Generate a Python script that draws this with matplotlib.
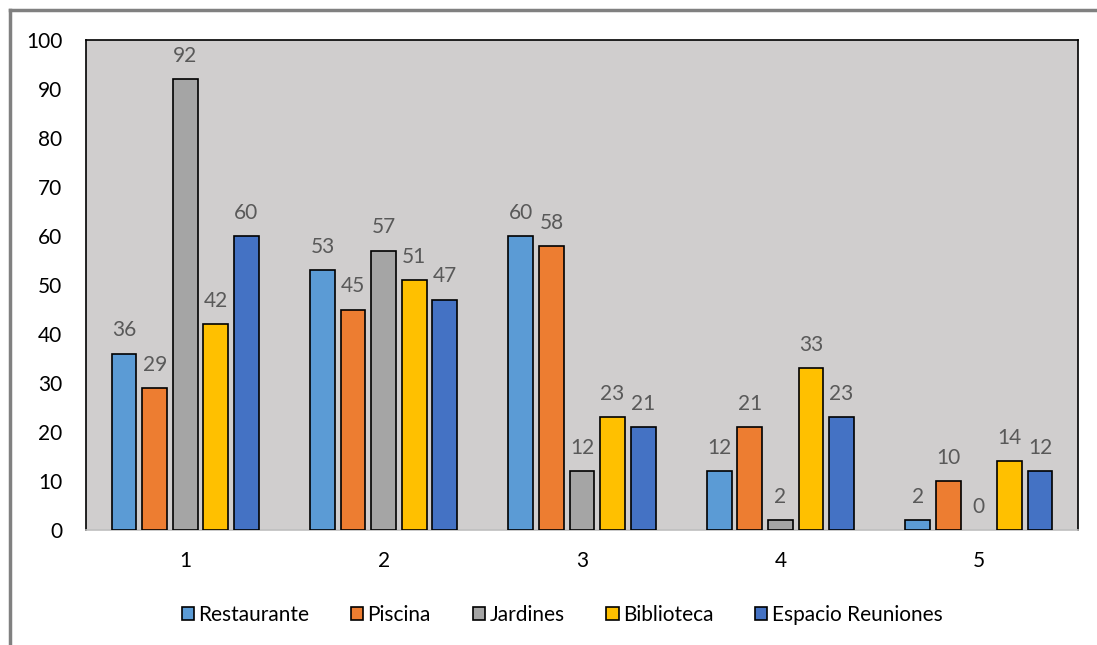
import matplotlib
matplotlib.use("Agg")
import matplotlib.pyplot as plt
import numpy as np
from matplotlib.lines import Line2D

categories = ["1", "2", "3", "4", "5"]
series_names = ["Restaurante", "Piscina", "Jardines", "Biblioteca", "Espacio Reuniones"]
restaurante = [36, 53, 60, 12, 2]
piscina = [29, 45, 58, 21, 10]
jardines = [92, 57, 12, 2, 0]
biblioteca = [42, 51, 23, 33, 14]
espacio = [60, 47, 21, 23, 12]
colors = ["#5B9BD5", "#ED7D31", "#A5A5A5", "#FFC000", "#4472C4"]

plt.rcParams['font.family'] = ['Lato', 'DejaVu Sans']

fig = plt.figure(figsize=(10.97, 6.45), dpi=100)
ax = fig.add_axes([86/1097, 1-530/645, (1078-86)/1097, 490/645])
ax.set_facecolor("#D0CECE")

x = np.arange(1, len(categories) + 1)
width = 0.125
step = 0.154
all_series = [restaurante, piscina, jardines, biblioteca, espacio]
for i, (vals, name, c) in enumerate(zip(all_series, series_names, colors)):
    pos = x + (i - 2) * step
    lws = [1.2 if v > 0 else 0 for v in vals]
    ax.bar(pos, vals, width, color=c, edgecolor="black", linewidth=lws, label=name, zorder=3)
    for p, v in zip(pos, vals):
        ax.text(p, v + 2.7, str(v), ha="center", va="bottom", fontsize=15, color="#595959")

ax.set_xlim(0.5, 5.5)
ax.set_ylim(0, 100)
ax.set_yticks(range(0, 101, 10))
ax.set_xticks(x)
ax.set_xticklabels(categories)
ax.tick_params(axis="both", length=0, labelsize=15, colors="black")
ax.tick_params(axis="y", pad=17)
ax.tick_params(axis="x", pad=15)
for s in ["left", "top", "right"]:
    ax.spines[s].set_color("black")
    ax.spines[s].set_linewidth(1.2)
ax.spines["bottom"].set_color("#BFBFBF")
ax.spines["bottom"].set_linewidth(1.2)

handles = [plt.Rectangle((0, 0), 1, 1, facecolor=c, edgecolor="black", linewidth=1.2) for c in colors]
fig.legend(handles, series_names, loc="center", bbox_to_anchor=(562/1097, 1-615/645), ncol=5,
           frameon=False, fontsize=15, handlelength=0.6, handleheight=0.6, handletextpad=0.2,
           columnspacing=2.0)

# outer frame lines
fig.add_artist(Line2D([10/1097, 10/1097], [0, 1-10/645], color="#808080", linewidth=2.5, transform=fig.transFigure))
fig.add_artist(Line2D([10/1097, 1], [1-10/645, 1-10/645], color="#808080", linewidth=2.5, transform=fig.transFigure))

fig.savefig("out.png", dpi=100, facecolor="white")
